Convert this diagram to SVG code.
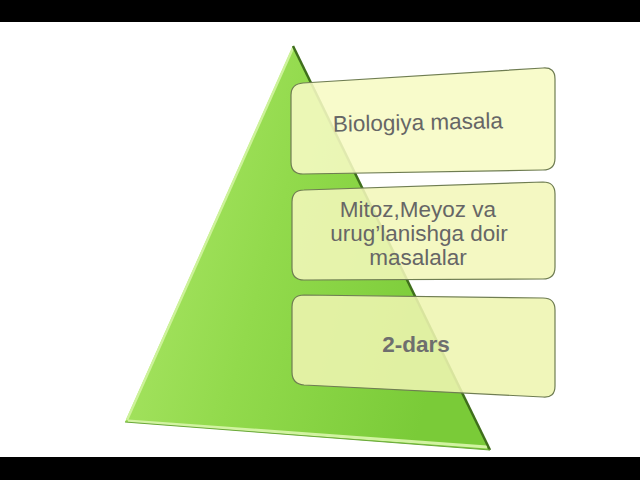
<svg xmlns="http://www.w3.org/2000/svg" width="640" height="480" viewBox="0 0 640 480">
<defs>
<linearGradient id="tri" x1="0" y1="0" x2="1" y2="0.3">
<stop offset="0" stop-color="#b0e86c"/>
<stop offset="0.5" stop-color="#92da4c"/>
<stop offset="1" stop-color="#7acb38"/>
</linearGradient>
<style>
.box{fill-opacity:0.88;stroke:#6f7d52;stroke-width:1.2}
.t{font-family:"Liberation Sans",Arial,sans-serif;font-size:22.5px;fill:#666666;text-anchor:middle}
.b{font-weight:bold;fill:#6e6e6e}
</style>
</defs>
<rect x="0" y="0" width="640" height="480" fill="#ffffff"/>
<rect x="0" y="0" width="640" height="22" fill="#000000"/>
<rect x="0" y="457" width="640" height="23" fill="#000000"/>
<g id="pyramid">
<polygon points="293,46 125,422 490,450" fill="url(#tri)"/>
<polyline points="127,420 293,48" fill="none" stroke="#cdf29a" stroke-width="2.5"/>
<polyline points="128,421 487,447" fill="none" stroke="#d2f3a2" stroke-width="3"/>
<polyline points="293,46 490,450" fill="none" stroke="#3f6f1c" stroke-width="2.5"/>
<polyline points="125,422 490,450" fill="none" stroke="#6aa83a" stroke-width="1"/>
</g>
<g id="box1">
<path class="box" fill="#f7fac4" d="M303,83 L543,68 Q555,67 555,79 L555,158 Q555,170 543,170 L303,174 Q291,174 291,162 L291,95 Q291,84 303,83 Z"/>
<text class="t" x="418" y="130" transform="rotate(-1.2 418 130)">Biologiya masala</text>
</g>
<g id="box2">
<path class="box" fill="#f2f7ba" d="M304,190 L543,182 Q555,182 555,194 L555,267 Q555,279 543,279 L304,280 Q292,280 292,268 L292,202 Q292,190 304,190 Z"/>
<text class="t" x="418" y="217">Mitoz,Meyoz va</text>
<text class="t" x="419" y="241">urug’lanishga doir</text>
<text class="t" x="418" y="265">masalalar</text>
</g>
<g id="box3">
<path class="box" fill="#eef5b0" d="M304,295 L543,298 Q555,298 555,310 L555,386 Q555,398 543,397 L304,385 Q292,384 292,372 L292,307 Q292,295 304,295 Z"/>
<text class="t b" x="416" y="352">2-dars</text>
</g>
</svg>
